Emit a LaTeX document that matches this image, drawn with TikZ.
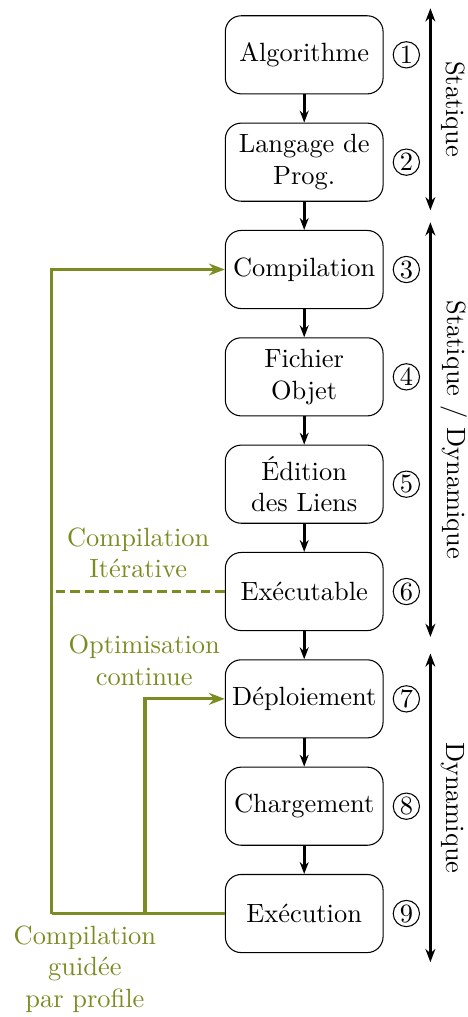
\documentclass[tikz,border=0pt]{standalone}
\usepackage{fontspec}
\usetikzlibrary{positioning,arrows.meta}
\definecolor{pgogreen}{RGB}{122,140,34}

\begin{document}
\begin{tikzpicture}[every node/.style={font=\normalsize},
    etape/.style={draw, rounded corners=6pt, align=center, minimum width=2.1cm, minimum height=1.04cm, inner sep=2pt},
    numero/.style={draw, circle, thin, inner sep=0pt, minimum size=0.35cm},
    flux/.style={very thick, -{Stealth[length=4.5pt]}},
    phase/.style={very thick, {Stealth[length=5pt]}-{Stealth[length=5pt]}},
    retour/.style={pgogreen, very thick},
    vert/.style={text=pgogreen, align=center},
    node distance=0.375cm]
    \useasboundingbox (0,0) rectangle (6.23,-13.54);

    \node[etape] (algo) at (4.05,-0.73) {Algorithme};
    \node[etape, below=of algo] (lang) {Langage de\\Prog.};
    \node[etape, below=of lang] (comp) {Compilation};
    \node[etape, below=of comp] (obj) {Fichier\\Objet};
    \node[etape, below=of obj] (liens) {\'Edition\\des Liens};
    \node[etape, below=of liens] (exe) {Ex\'ecutable};
    \node[etape, below=of exe] (depl) {D\'eploiement};
    \node[etape, below=of depl] (charg) {Chargement};
    \node[etape, below=of charg] (exec) {Ex\'ecution};

    \draw[flux] (algo) -- (lang);
    \draw[flux] (lang) -- (comp);
    \draw[flux] (comp) -- (obj);
    \draw[flux] (obj) -- (liens);
    \draw[flux] (liens) -- (exe);
    \draw[flux] (exe) -- (depl);
    \draw[flux] (depl) -- (charg);
    \draw[flux] (charg) -- (exec);

    % numeros des etapes
    \foreach \n/\c in {algo/1,lang/2,comp/3,obj/4,liens/5,exe/6,depl/7,charg/8,exec/9}
        \node[numero] (num-\n) at (\n.center -| 5.41,0) {\c};

    % phases
    \coordinate (s1) at (5.73,-0.11);
    \coordinate (s2) at (5.73,-2.80);
    \coordinate (sd1) at (5.73,-2.96);
    \coordinate (sd2) at (5.73,-8.48);
    \coordinate (d1) at (5.73,-8.70);
    \coordinate (d2) at (5.73,-12.81);
    \draw[phase] (s1) -- (s2) node[midway, rotate=-90, anchor=south, inner sep=3.5pt] (statique) {Statique};
    \draw[phase] (sd1) -- (sd2) node[midway, rotate=-90, anchor=south, inner sep=3.5pt] (statdyn) {Statique / Dynamique};
    \draw[phase] (d1) -- (d2) node[midway, rotate=-90, anchor=south, inner sep=3.5pt] (dyn) {Dynamique};

    % boucles de compilation
    \coordinate (pgoL) at (exec.west -| 0.69,0);
    \coordinate (pgoM) at (exec.west -| 1.93,0);
    \draw[retour] (exec.west) -- (pgoL);
    \draw[retour,-{Stealth[length=6pt]}] (pgoL) |- (comp.west);
    \draw[retour,-{Stealth[length=6pt]}] (pgoM) |- (depl.west);
    \draw[retour, dash pattern=on 3.6pt off 1.9pt] (exe.west) -- (exe.west -| 0.74,0);

    \node[vert] (iter) at (1.84,-7.36) {Compilation\\It\'erative};
    \node[vert] (optim) at (1.92,-8.79) {Optimisation\\continue};
    \node[vert] (pgo) at (1.13,-12.90) {Compilation\\guid\'ee\\par profile};
\end{tikzpicture}
\end{document}
